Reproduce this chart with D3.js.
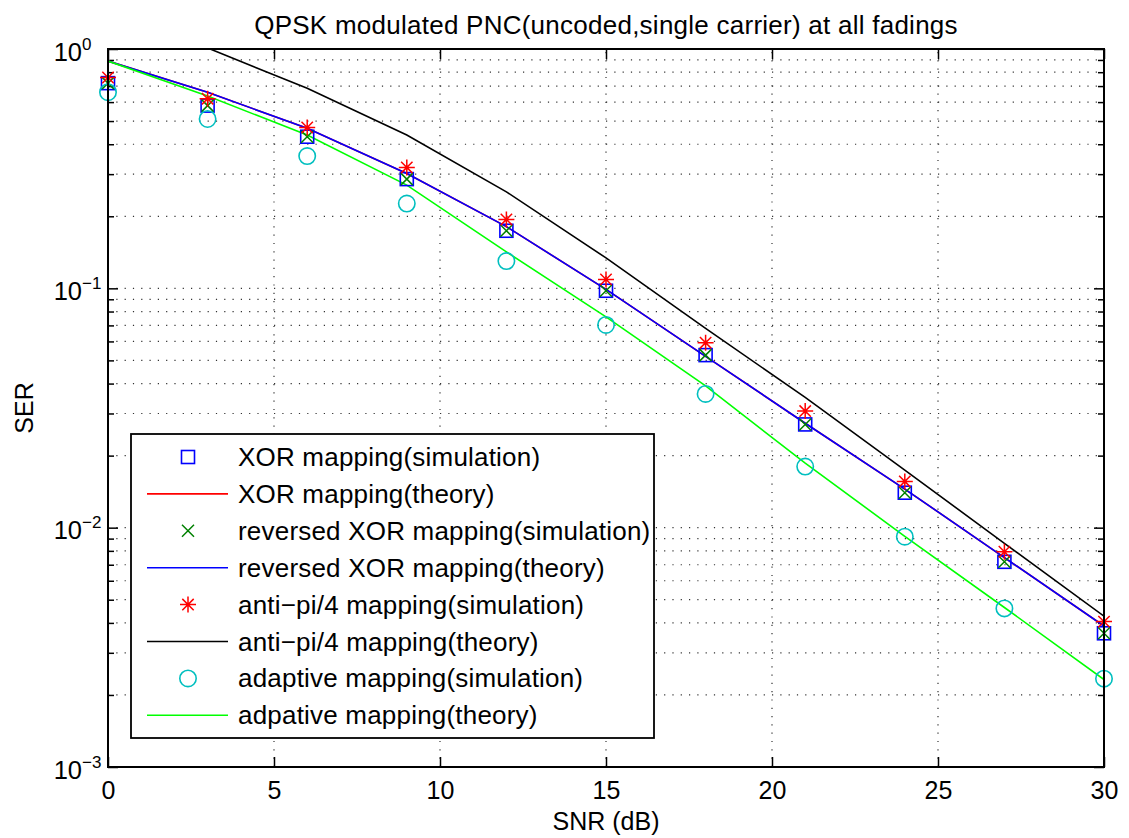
<!DOCTYPE html>
<html>
<head>
<meta charset="utf-8">
<script src="https://cdn.jsdelivr.net/npm/d3@7"></script>
<style>
  html, body { margin: 0; padding: 0; background: #fff; }
  svg { display: block; font-family: "Liberation Sans", Arial, Helvetica, sans-serif; }
</style>
</head>
<body>
<svg id="chart" width="1129" height="838"></svg>
<script>
// ---------------- data ----------------
const snr = [0, 3, 6, 9, 12, 15, 18, 21, 24, 27, 30];
const xorSim      = [0.72, 0.58, 0.43, 0.286, 0.174, 0.0977, 0.0526, 0.0270, 0.0140, 0.00720, 0.00362];
const xorTheory   = [0.89, 0.66, 0.466, 0.302, 0.181, 0.099, 0.0520, 0.0273, 0.0145, 0.00750, 0.00388];
const revSim      = [0.72, 0.58, 0.43, 0.286, 0.174, 0.0977, 0.0526, 0.0270, 0.0140, 0.00720, 0.00362];
const revTheory   = [0.89, 0.66, 0.466, 0.302, 0.181, 0.099, 0.0520, 0.0273, 0.0145, 0.00750, 0.00388];
const antiSim     = [0.76, 0.62, 0.47, 0.32, 0.194, 0.109, 0.0593, 0.0307, 0.0156, 0.00793, 0.00405];
const antiTheory  = [1.35, 1.01, 0.685, 0.437, 0.253, 0.134, 0.068, 0.0350, 0.0174, 0.0086, 0.00427];
const adaSim      = [0.66, 0.51, 0.357, 0.226, 0.130, 0.0703, 0.0362, 0.0180, 0.00917, 0.00460, 0.00234];
const adaTheory   = [0.89, 0.636, 0.437, 0.270, 0.142, 0.076, 0.0391, 0.0186, 0.0092, 0.00464, 0.00232];

const xTicks = [0, 5, 10, 15, 20, 25, 30];
const yMajorTicks = [1e-3, 1e-2, 1e-1, 1];
const yTickExponents = ["\u22123", "\u22122", "\u22121", "0"];
const legendLabels = [
  "XOR mapping(simulation)",
  "XOR mapping(theory)",
  "reversed XOR mapping(simulation)",
  "reversed XOR mapping(theory)",
  "anti\u2212pi/4 mapping(simulation)",
  "anti\u2212pi/4 mapping(theory)",
  "adaptive mapping(simulation)",
  "adpative mapping(theory)"
];
const titleText = "QPSK modulated PNC(uncoded,single carrier) at all fadings";
const xLabel = "SNR (dB)";
const yLabel = "SER";

// ---------------- layout ----------------
const L = 108, R = 1104, T = 49, B = 767;
const FONT = 25;
const svg = d3.select("#chart");
const x = d3.scaleLinear().domain([0, 30]).range([L, R]);
const y = d3.scaleLog().domain([1e-3, 1]).range([B, T]);

// minor log ticks
const yMinorTicks = [];
for (let e = -3; e < 0; e++) for (let k = 2; k <= 9; k++) yMinorTicks.push(k * Math.pow(10, e));
const yAllTicks = yMajorTicks.concat(yMinorTicks);

// ---------------- grid ----------------
const grid = svg.append("g").attr("stroke", "#333").attr("stroke-width", 1.2)
  .attr("stroke-dasharray", "1.2,7.1");
grid.selectAll("line.h").data(yAllTicks.filter(v => v > 1e-3 && v < 1)).join("line")
  .attr("x1", L).attr("x2", R).attr("y1", d => y(d)).attr("y2", d => y(d));
grid.selectAll("line.v").data(xTicks.filter(v => v > 0 && v < 30)).join("line")
  .attr("y1", B).attr("y2", T).attr("x1", d => x(d)).attr("x2", d => x(d));

// ---------------- axes (ticks inward) ----------------
const axStyle = g => {
  g.select(".domain").remove();
  g.selectAll(".tick line").attr("stroke", "#000").attr("stroke-width", 1.5);
};
// bottom
svg.append("g").attr("transform", `translate(0,${B})`)
  .call(d3.axisBottom(x).tickValues(xTicks).tickSizeInner(-10).tickSizeOuter(0).tickPadding(14).tickFormat(d3.format("d")))
  .call(axStyle)
  .call(g => g.selectAll("text").attr("font-size", FONT).attr("fill", "#000").attr("font-family", null));
// top
svg.append("g").attr("transform", `translate(0,${T})`)
  .call(d3.axisTop(x).tickValues(xTicks).tickSizeInner(-10).tickSizeOuter(0).tickFormat(""))
  .call(axStyle);
// left major
const leftMajor = svg.append("g").attr("transform", `translate(${L},0)`)
  .call(d3.axisLeft(y).tickValues(yMajorTicks).tickSizeInner(-10).tickSizeOuter(0).tickFormat(""))
  .call(axStyle);
leftMajor.selectAll(".tick").each(function(d) {
  const g = d3.select(this);
  g.append("text").attr("x", -26).attr("y", 11).attr("text-anchor", "end")
    .attr("font-size", 25.5).attr("fill", "#000").text("10");
  g.append("text").attr("x", -26).attr("y", 0).attr("text-anchor", "start")
    .attr("font-size", 17).attr("fill", "#000").text(yTickExponents[yMajorTicks.indexOf(d)]);
});
// left minor
svg.append("g").attr("transform", `translate(${L},0)`)
  .call(d3.axisLeft(y).tickValues(yMinorTicks).tickSizeInner(-6).tickSizeOuter(0).tickFormat(""))
  .call(axStyle);
// right major + minor
svg.append("g").attr("transform", `translate(${R},0)`)
  .call(d3.axisRight(y).tickValues(yMajorTicks).tickSizeInner(-10).tickSizeOuter(0).tickFormat(""))
  .call(axStyle);
svg.append("g").attr("transform", `translate(${R},0)`)
  .call(d3.axisRight(y).tickValues(yMinorTicks).tickSizeInner(-6).tickSizeOuter(0).tickFormat(""))
  .call(axStyle);

// ---------------- clip ----------------
svg.append("defs").append("clipPath").attr("id", "plotclip")
  .append("rect").attr("x", L).attr("y", T).attr("width", R - L).attr("height", B - T);

const plot = svg.append("g").attr("clip-path", "url(#plotclip)");
const lineGen = d3.line().x((d, i) => x(snr[i])).y(d => y(d));

// marker drawers
function drawSquare(g, cx, cy, color) {
  g.append("rect").attr("x", cx - 6.5).attr("y", cy - 6.5).attr("width", 13).attr("height", 13)
    .attr("fill", "none").attr("stroke", color).attr("stroke-width", 1.6);
}
function drawX(g, cx, cy, color) {
  const s = 6;
  g.append("path").attr("d", `M${cx - s},${cy - s}L${cx + s},${cy + s}M${cx - s},${cy + s}L${cx + s},${cy - s}`)
    .attr("stroke", color).attr("stroke-width", 1.5).attr("fill", "none");
}
function drawStar(g, cx, cy, color) {
  const s = 8, d = 5.7;
  g.append("path").attr("d",
    `M${cx - s},${cy}L${cx + s},${cy}M${cx},${cy - s}L${cx},${cy + s}` +
    `M${cx - d},${cy - d}L${cx + d},${cy + d}M${cx - d},${cy + d}L${cx + d},${cy - d}`)
    .attr("stroke", color).attr("stroke-width", 1.5).attr("fill", "none");
}
function drawCircle(g, cx, cy, color) {
  g.append("circle").attr("cx", cx).attr("cy", cy).attr("r", 8.2)
    .attr("fill", "none").attr("stroke", color).attr("stroke-width", 1.6);
}

const series = [
  { type: "m", data: xorSim, color: "#0000ff", marker: drawSquare },
  { type: "l", data: xorTheory, color: "#ff0000" },
  { type: "m", data: revSim, color: "#008000", marker: drawX },
  { type: "l", data: revTheory, color: "#0000ff" },
  { type: "m", data: antiSim, color: "#ff0000", marker: drawStar },
  { type: "l", data: antiTheory, color: "#000000" },
  { type: "m", data: adaSim, color: "#00bfbf", marker: drawCircle },
  { type: "l", data: adaTheory, color: "#00ff00" }
];

series.forEach(s => {
  if (s.type === "l") {
    plot.append("path").attr("d", lineGen(s.data)).attr("fill", "none")
      .attr("stroke", s.color).attr("stroke-width", 1.6);
  } else {
    const g = svg.append("g");
    s.data.forEach((v, i) => s.marker(g, x(snr[i]), y(v), s.color));
  }
});

// ---------------- frame ----------------
svg.append("rect").attr("x", L).attr("y", T).attr("width", R - L).attr("height", B - T)
  .attr("fill", "none").attr("stroke", "#000").attr("stroke-width", 2);

// ---------------- legend ----------------
const lgX = 131, lgY = 434, lgW = 523, lgH = 304, rowH = 36.9, row0 = 457;
const lg = svg.append("g");
lg.append("rect").attr("x", lgX).attr("y", lgY).attr("width", lgW).attr("height", lgH)
  .attr("fill", "#fff").attr("stroke", "#000").attr("stroke-width", 1.8);
series.forEach((s, i) => {
  const cy = row0 + i * rowH;
  if (s.type === "l") {
    lg.append("line").attr("x1", 147).attr("x2", 228).attr("y1", cy).attr("y2", cy)
      .attr("stroke", s.color).attr("stroke-width", 1.6);
  } else {
    s.marker(lg, 188, cy, s.color);
  }
  lg.append("text").attr("x", 238).attr("y", cy + 9).attr("font-size", 26)
    .attr("letter-spacing", 0.2).attr("fill", "#000")
    .text(legendLabels[i]);
});

// ---------------- titles ----------------
svg.append("text").attr("x", (L + R) / 2).attr("y", 34).attr("text-anchor", "middle")
  .attr("font-size", 26).attr("letter-spacing", 0.25).attr("fill", "#000").text(titleText);
svg.append("text").attr("x", (L + R) / 2).attr("y", 830).attr("text-anchor", "middle")
  .attr("font-size", FONT).attr("fill", "#000").text(xLabel);
svg.append("text").attr("transform", `translate(33,408) rotate(-90)`).attr("text-anchor", "middle")
  .attr("font-size", FONT).attr("fill", "#000").text(yLabel);
</script>
</body>
</html>
